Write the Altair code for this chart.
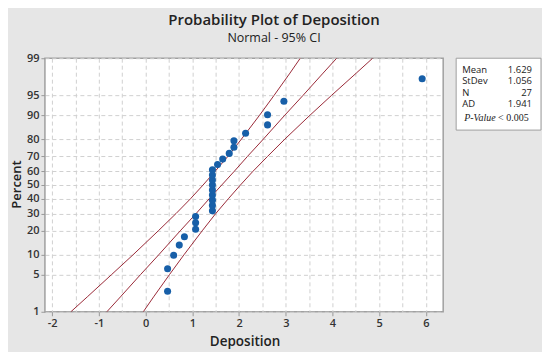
import altair as alt
import pandas as pd
from statistics import NormalDist

# ---- data ----
deposition = [0.47, 0.47, 0.60, 0.72, 0.83, 1.07, 1.07, 1.07,
              1.43, 1.43, 1.43, 1.43, 1.43, 1.43, 1.43, 1.43, 1.43,
              1.54, 1.65, 1.79, 1.89, 1.89, 2.14, 2.61, 2.61, 2.96, 5.92]
percent = [2.55, 6.20, 9.85, 13.50, 17.15, 20.80, 24.45, 28.10,
           31.75, 35.40, 39.05, 42.70, 46.35, 50.00, 53.65, 57.30, 60.95,
           64.60, 68.25, 71.90, 75.55, 79.20, 82.85, 86.50, 90.15, 93.80, 97.45]

band_percent = [1, 2, 5, 10, 20, 30, 40, 50, 60, 70, 80, 90, 95, 98, 99]
fit_x = [-0.83, -0.54, -0.11, 0.28, 0.74, 1.08, 1.36, 1.63, 1.90, 2.18, 2.52, 2.98, 3.37, 3.80, 4.09]
lower_x = [-1.60, -1.25, -0.73, -0.27, 0.27, 0.65, 0.96, 1.23, 1.49, 1.76, 2.05, 2.44, 2.75, 3.09, 3.31]
upper_x = [-0.05, 0.17, 0.51, 0.82, 1.21, 1.50, 1.77, 2.03, 2.30, 2.61, 2.98, 3.52, 3.98, 4.51, 4.86]

y_ticks = [1, 5, 10, 20, 30, 40, 50, 60, 70, 80, 90, 95, 99]
x_ticks = [-2, -1.5, -1, -0.5, 0, 0.5, 1, 1.5, 2, 2.5, 3, 3.5, 4, 4.5, 5, 5.5, 6]

stat_labels = ["Mean", "StDev", "N", "AD"]
stat_values = ["1.629", "1.056", "27", "1.941"]
p_label = "P-Value"
p_value = "< 0.005"

# ---- tables ----
pts = pd.DataFrame({"x": deposition, "pct": percent})
lines = pd.concat([
    pd.DataFrame({"x": lower_x, "pct": band_percent, "s": "lower"}),
    pd.DataFrame({"x": fit_x, "pct": band_percent, "s": "fit"}),
    pd.DataFrame({"x": upper_x, "pct": band_percent, "s": "upper"}),
])
one = pd.DataFrame({"k": [0]})

nd = NormalDist()
zlo, zhi = nd.inv_cdf(0.01), nd.inv_cdf(0.99)
y_vals = [nd.inv_cdf(p / 100) for p in y_ticks]

FONT = "Open Sans"

X = alt.X("x:Q",
          scale=alt.Scale(domain=[-2.156, 6.37], nice=False, zero=False),
          axis=alt.Axis(values=x_ticks,
                        labelExpr="datum.value % 1 === 0 ? '' + datum.value : ''",
                        tickOpacity={"condition": {"test": "datum.value % 1 !== 0", "value": 0}, "value": 1},
                        title="Deposition", titleX=200, titleY=30, titleBaseline="middle",
                        titleFont=FONT, titleFontSize=13.5, titleFontWeight=600, titleColor="#222",
                        labelFont=FONT, labelFontSize=11, labelFontWeight=600, labelColor="#333",
                        tickSize=4, tickColor="#999", labelPadding=2, domain=False,
                        grid=True, gridDash=[4, 3], gridColor="#d0d0d0", gridWidth=1))
Y = alt.Y("z:Q",
          scale=alt.Scale(domain=[zlo, zhi], nice=False, zero=False),
          axis=alt.Axis(values=y_vals,
                        labelExpr="'' + round(cumulativeNormal(datum.value) * 100)",
                        title="Percent", titleX=-28, titleY=126, titleAngle=270,
                        titleAlign="center", titleBaseline="middle",
                        titleFont=FONT, titleFontSize=13, titleFontWeight=600, titleColor="#222",
                        labelFont=FONT, labelFontSize=11, labelFontWeight=600, labelColor="#333",
                        tickSize=4, tickColor="#999", labelPadding=2, domain=False,
                        grid=True, gridDash=[4, 3], gridColor="#d0d0d0", gridWidth=1))

calc = "quantileNormal(datum.pct / 100)"

line_layer = alt.Chart(lines).transform_calculate(z=calc).mark_line(
    color="#9a2a38", strokeWidth=1, clip=True
).encode(x=X, y=Y, detail="s:N", order="pct:Q")

point_layer = alt.Chart(pts).transform_calculate(z=calc).mark_circle(
    size=50, color="#175fa8", opacity=1
).encode(x=X, y=Y)

box = alt.Chart(one).mark_rect(fill="white", stroke="#a0a0a0", strokeWidth=1).encode(
    x=alt.value(412), x2=alt.value(497), y=alt.value(0), y2=alt.value(72))

layers = [line_layer, point_layer, box]
row_y = [11.4, 23.0, 34.6, 46.2]
for lab, v, ry in zip(stat_labels, stat_values, row_y):
    layers.append(alt.Chart(one).mark_text(text=lab, align="left", baseline="middle",
                                           font=FONT, fontSize=9.5, color="#222").encode(
        x=alt.value(418), y=alt.value(ry)))
    layers.append(alt.Chart(one).mark_text(text=v, align="right", baseline="middle",
                                           font=FONT, fontSize=9.5, color="#222").encode(
        x=alt.value(488), y=alt.value(ry)))
layers.append(alt.Chart(one).mark_text(text=p_label, align="left", baseline="middle",
                                       font="Liberation Serif", fontStyle="italic", fontSize=10,
                                       color="#222").encode(x=alt.value(420), y=alt.value(60)))
layers.append(alt.Chart(one).mark_text(text=p_value, align="left", baseline="middle",
                                       font="Liberation Serif", fontSize=10,
                                       color="#222").encode(x=alt.value(454), y=alt.value(60)))

chart = alt.layer(*layers).properties(
    width=399, height=254,
    autosize=alt.AutoSizeParams(type="none"),
    padding={"left": 37, "top": 50, "right": 99, "bottom": 40},
    background="#e6e6e6",
    title=alt.TitleParams(text="Probability Plot of Deposition", subtitle="Normal - 95% CI",
                          anchor="middle", frame="group", dx=30, offset=8,
                          font=FONT, fontSize=15, fontWeight=600, color="#222",
                          subtitleFont=FONT, subtitleFontSize=12.5, subtitleColor="#222",
                          subtitlePadding=4),
).configure_view(fill="white", stroke="#a0a0a0", strokeWidth=1.5)

chart.save("out.html", embed_options={"renderer": "svg", "actions": False})
